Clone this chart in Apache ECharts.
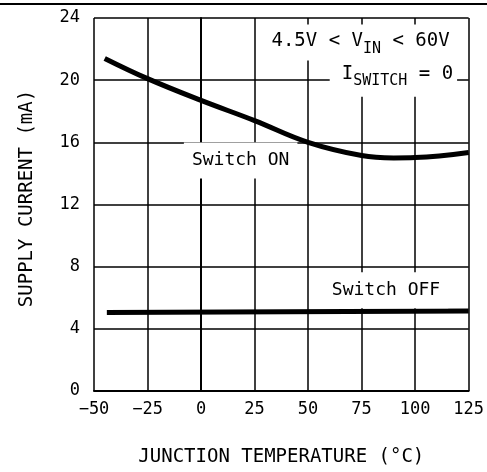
<!DOCTYPE html>
<html><head><meta charset="utf-8">
<script src="https://cdn.jsdelivr.net/npm/echarts@6/dist/echarts.min.js"></script>
<style>html,body{margin:0;padding:0;background:#fff}#c{width:487px;height:472px}</style>
</head><body><div id="c"></div>
<script>
const xTicks = [-50, -25, 0, 25, 50, 75, 100, 125];
const yTicks = [0, 4, 8, 12, 16, 20, 24];
const onTemp = [-45, -25, 0, 25, 50, 75, 90, 100, 125];
const onCurrent = [21.4, 20.1, 18.7, 17.4, 16.0, 15.15, 15.0, 15.02, 15.35];
const offTemp = [-44, 40, 125];
const offCurrent = [5.05, 5.1, 5.15];
const noteText = ['{n|4.5V < V}{s|IN}{n| < 60V}', '{n|I}{s|SWITCH}{n| = 0}', '{m|Switch ON}', '{m|Switch OFF}'];
const noteAt = [[118, 22.42], [119.6, 20.26], [18.5, 14.83], [86.4, 6.48]];
const noteAlign = ['right', 'right', 'center', 'center'];

const FONT = 'DejaVu Sans Mono';
const chart = echarts.init(document.getElementById('c'));
const rich = {
  n: {fontFamily: FONT, fontSize: 19, fill: '#000', color: '#000', lineHeight: 30, verticalAlign: 'middle'},
  s: {fontFamily: FONT, fontSize: 15, fill: '#000', color: '#000', lineHeight: 15, verticalAlign: 'bottom'},
  m: {fontFamily: FONT, fontSize: 18, fill: '#000', color: '#000', lineHeight: 22, verticalAlign: 'middle'}
};
const notePad = [[2, 4, 4, 10], [3, 4, 8, 12], [7, 8, 7, 8], [7, 8, 7, 8]];
const tickFmt = v => xTicks.includes(v) ? String(v).replace('-', '\u2212') : '';
chart.setOption({
  animation: false,
  backgroundColor: '#fff',
  grid: {left: 94, right: 18, top: 18, bottom: 79, containLabel: false},
  xAxis: {
    type: 'value', min: -50, max: 125, interval: 25,
    name: 'JUNCTION TEMPERATURE (°C)', nameLocation: 'middle', nameGap: 57,
    nameTextStyle: {fontFamily: FONT, fontSize: 19, color: '#000'},
    axisLine: {show: true, onZero: false, lineStyle: {color: '#000', width: 2}},
    axisTick: {show: false},
    axisLabel: {fontFamily: FONT, fontSize: 17, color: '#000', margin: 10, formatter: tickFmt},
    splitLine: {show: true, lineStyle: {color: '#000', width: 1.5}}
  },
  yAxis: {
    type: 'value', min: 0, max: 24, interval: 4,
    name: 'SUPPLY CURRENT (mA)', nameLocation: 'middle', nameGap: 57,
    nameTextStyle: {fontFamily: FONT, fontSize: 19, color: '#000', padding: [0, 0, 0, 12]},
    axisLine: {show: true, lineStyle: {color: '#000', width: 2}},
    axisTick: {show: false},
    axisLabel: {fontFamily: FONT, fontSize: 17, color: '#000', margin: 14,
      formatter: v => yTicks.includes(v) ? String(v) : ''},
    splitLine: {show: true, lineStyle: {color: '#000', width: 1.5}}
  },
  series: [
    {type: 'line', data: onTemp.map((t, i) => [t, onCurrent[i]]), smooth: 0.4, symbol: 'none',
      lineStyle: {color: '#000', width: 5}, z: 3},
    {type: 'line', data: offTemp.map((t, i) => [t, offCurrent[i]]), symbol: 'none',
      lineStyle: {color: '#000', width: 5}, z: 3}
  ]
});
const els = [{type: 'line', z: 100, shape: {x1: 0, y1: 4, x2: 487, y2: 4}, style: {stroke: '#000', lineWidth: 2}}];
noteText.forEach((t, i) => {
  const p = chart.convertToPixel({gridIndex: 0}, noteAt[i]);
  els.push({
    type: 'text', z: 100, x: p[0], y: p[1],
    style: {
      text: t, rich: rich, align: noteAlign[i], verticalAlign: 'middle',
      backgroundColor: '#fff', padding: notePad[i], fill: '#000'
    }
  });
});
chart.setOption({graphic: els});
</script></body></html>
